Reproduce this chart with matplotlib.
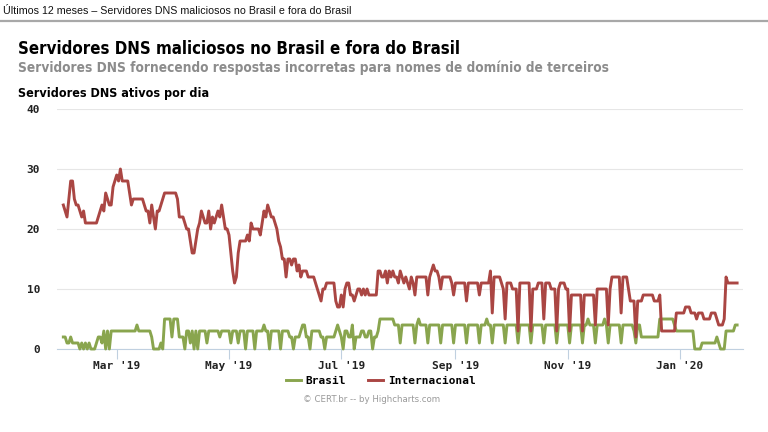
import matplotlib
matplotlib.use("Agg")
import matplotlib.pyplot as plt
import matplotlib.dates as mdates
import pandas as pd

# daily values, first day 2019-01-31
start_date = "2019-01-31"

internacional = [
    24, 23, 22, 25, 28, 28, 25,
    24, 24, 23, 22, 23, 21, 21,
    21, 21, 21, 21, 21, 22, 23,
    24, 23, 26, 25, 24, 24, 27,
    28, 29, 28, 30, 28, 28, 28,
    28, 26, 24, 25, 25, 25, 25,
    25, 25, 24, 23, 23, 21, 24,
    22, 20, 23, 23, 24, 25, 26,
    26, 26, 26, 26, 26, 26, 25,
    22, 22, 22, 21, 20, 20, 18,
    16, 16, 18, 20, 21, 23, 22,
    21, 21, 23, 20, 22, 21, 22,
    23, 22, 24, 22, 20, 20, 19,
    16, 13, 11, 12, 16, 18, 18,
    18, 18, 19, 18, 21, 20, 20,
    20, 20, 19, 21, 23, 22, 24,
    23, 22, 22, 21, 20, 18, 17,
    15, 15, 12, 15, 15, 14, 15,
    15, 13, 14, 12, 13, 13, 13,
    12, 12, 12, 12, 11, 10, 9,
    8, 10, 10, 11, 11, 11, 11,
    11, 8, 7, 7, 9, 7, 10,
    11, 11, 9, 9, 8, 9, 10,
    10, 9, 10, 9, 10, 9, 9,
    9, 9, 9, 13, 13, 12, 12,
    13, 11, 13, 12, 13, 12, 12,
    11, 13, 12, 11, 12, 11, 10,
    12, 11, 9, 12, 12, 12, 12,
    12, 12, 9, 12, 13, 14, 13,
    13, 12, 10, 12, 12, 12, 12,
    12, 11, 9, 11, 11, 11, 11,
    11, 11, 8, 11, 11, 11, 11,
    11, 11, 9, 11, 11, 11, 11,
    11, 13, 6, 12, 12, 12, 12,
    11, 10, 5, 11, 11, 11, 10,
    10, 10, 3, 11, 11, 11, 11,
    11, 11, 3, 10, 10, 10, 11,
    11, 11, 5, 11, 11, 11, 10,
    10, 10, 3, 10, 11, 11, 11,
    10, 10, 3, 9, 9, 9, 9,
    9, 9, 3, 9, 9, 9, 9,
    9, 9, 4, 10, 10, 10, 10,
    10, 10, 4, 10, 12, 12, 12,
    12, 12, 6, 12, 12, 12, 10,
    8, 8, 8, 2, 8, 8, 8,
    9, 9, 9, 9, 9, 9, 8,
    8, 8, 9, 3, 3, 3, 3,
    3, 3, 3, 3, 6, 6, 6,
    6, 6, 7, 7, 7, 6, 6,
    6, 5, 6, 6, 6, 5, 5,
    5, 5, 6, 6, 6, 5, 4,
    4, 4, 5, 12, 11, 11, 11,
    11, 11, 11,
]

brasil = [
    2, 2, 1, 1, 2, 1, 1,
    1, 1, 0, 1, 0, 1, 0,
    1, 0, 0, 0, 1, 2, 2,
    1, 3, 0, 3, 0, 3, 3,
    3, 3, 3, 3, 3, 3, 3,
    3, 3, 3, 3, 3, 4, 3,
    3, 3, 3, 3, 3, 3, 2,
    0, 0, 0, 0, 1, 0, 5,
    5, 5, 5, 2, 5, 5, 5,
    2, 2, 2, 0, 3, 3, 1,
    3, 0, 3, 0, 3, 3, 3,
    3, 1, 3, 3, 3, 3, 3,
    3, 2, 3, 3, 3, 3, 3,
    1, 3, 3, 3, 1, 3, 3,
    3, 0, 3, 3, 3, 3, 0,
    3, 3, 3, 3, 4, 3, 3,
    0, 3, 3, 3, 3, 3, 0,
    3, 3, 3, 3, 2, 2, 0,
    2, 2, 2, 3, 4, 4, 2,
    2, 0, 3, 3, 3, 3, 3,
    2, 2, 0, 2, 2, 2, 2,
    2, 3, 4, 3, 2, 0, 3,
    3, 2, 2, 4, 0, 2, 2,
    2, 3, 3, 2, 2, 3, 3,
    0, 2, 2, 3, 5, 5, 5,
    5, 5, 5, 5, 5, 4, 4,
    4, 1, 4, 4, 4, 4, 4,
    4, 4, 1, 4, 5, 4, 4,
    4, 4, 1, 4, 4, 4, 4,
    4, 4, 1, 4, 4, 4, 4,
    4, 4, 1, 4, 4, 4, 4,
    4, 4, 1, 4, 4, 4, 4,
    4, 4, 1, 4, 4, 4, 5,
    4, 4, 1, 4, 4, 4, 4,
    4, 4, 1, 4, 4, 4, 4,
    4, 4, 1, 4, 4, 4, 4,
    4, 4, 1, 4, 4, 4, 4,
    4, 4, 1, 4, 4, 4, 4,
    4, 4, 1, 4, 4, 4, 4,
    4, 4, 1, 4, 4, 4, 4,
    4, 4, 1, 4, 4, 5, 4,
    4, 4, 1, 4, 4, 4, 4,
    5, 4, 1, 4, 4, 4, 4,
    4, 4, 1, 4, 4, 4, 4,
    4, 4, 3, 1, 4, 4, 2,
    2, 2, 2, 2, 2, 2, 2,
    2, 2, 5, 5, 5, 5, 5,
    5, 5, 5, 4, 3, 3, 3,
    3, 3, 3, 3, 3, 3, 3,
    0, 0, 0, 0, 1, 1, 1,
    1, 1, 1, 1, 1, 2, 1,
    0, 0, 0, 3, 3, 3, 3,
    3, 4, 4,
]

tick_months = ["2019-03-01", "2019-05-01", "2019-07-01",
               "2019-09-01", "2019-11-01", "2020-01-01"]
y_ticks = [0, 10, 20, 30, 40]

header = "Últimos 12 meses – Servidores DNS maliciosos no Brasil e fora do Brasil"
title = "Servidores DNS maliciosos no Brasil e fora do Brasil"
subtitle = "Servidores DNS fornecendo respostas incorretas para nomes de domínio de terceiros"
ytitle = "Servidores DNS ativos por dia"
credits = "© CERT.br -- by Highcharts.com"

W, H = 768, 432
dates = pd.date_range(start_date, periods=len(brasil), freq="D")

fig = plt.figure(figsize=(W / 100, H / 100), dpi=100)
ax = fig.add_axes([56.7 / W, 1 - 349 / H, (743 - 56.7) / W, (349 - 109) / H])

# header bar
fig.text(3 / W, 1 - 10.5 / H, header, ha="left", va="center", fontsize=7.7,
         family=["Liberation Sans Narrow", "Liberation Sans"], color="#111111")
fig.add_artist(plt.Line2D([0, 1], [1 - 21 / H, 1 - 21 / H], color="#a8a8a8", lw=1.6))

fig.text(18 / W, 1 - 48.5 / H, title, ha="left", va="center", fontsize=12.1,
         fontweight="bold", fontstretch="condensed", color="#000000")
fig.text(18 / W, 1 - 68 / H, subtitle, ha="left", va="center", fontsize=9.8,
         fontweight="bold", fontstretch="condensed", color="#8c8c8c")
fig.text(18 / W, 1 - 93 / H, ytitle, ha="left", va="center", fontsize=9.0,
         fontweight="bold", fontstretch="condensed", color="#000000")

ax.plot(dates, brasil, color="#89A54E", lw=2.1, label="Brasil", clip_on=False, zorder=3)
ax.plot(dates, internacional, color="#AA4643", lw=2.1, label="Internacional",
        clip_on=False, zorder=4)

x0 = mdates.date2num(dates[0])
ax.set_xlim(x0 - 3.6, x0 + 369.2)
ax.set_ylim(0, 40)
ax.set_yticks(y_ticks)
ax.set_xticks(pd.to_datetime(tick_months))
ax.xaxis.set_major_formatter(mdates.DateFormatter("%b '%y"))

ax.grid(axis="y", color="#e6e6e6", lw=0.8)
ax.set_axisbelow(True)
for s in ["top", "right", "left"]:
    ax.spines[s].set_visible(False)
ax.spines["bottom"].set_color("#C0D0E0")
ax.spines["bottom"].set_linewidth(0.8)
ax.tick_params(axis="x", length=7, color="#C0D0E0", width=0.8, pad=1.5)
ax.tick_params(axis="y", length=0, pad=12)
for lab in ax.get_xticklabels() + ax.get_yticklabels():
    lab.set_family("DejaVu Sans Mono")
    lab.set_fontweight("bold")
    lab.set_fontsize(8)
    lab.set_color("#222222")

leg = fig.legend(loc="center", bbox_to_anchor=(381 / W, 1 - 381 / H), ncol=2,
                 frameon=False, handlelength=1.3, handletextpad=0.45,
                 columnspacing=2.0, prop={"family": "DejaVu Sans Mono",
                                          "weight": "bold", "size": 8})

fig.text(372 / W, 1 - 399 / H, credits, ha="center", va="center", fontsize=6.2,
         color="#999999")

fig.savefig("out.png", dpi=100)
